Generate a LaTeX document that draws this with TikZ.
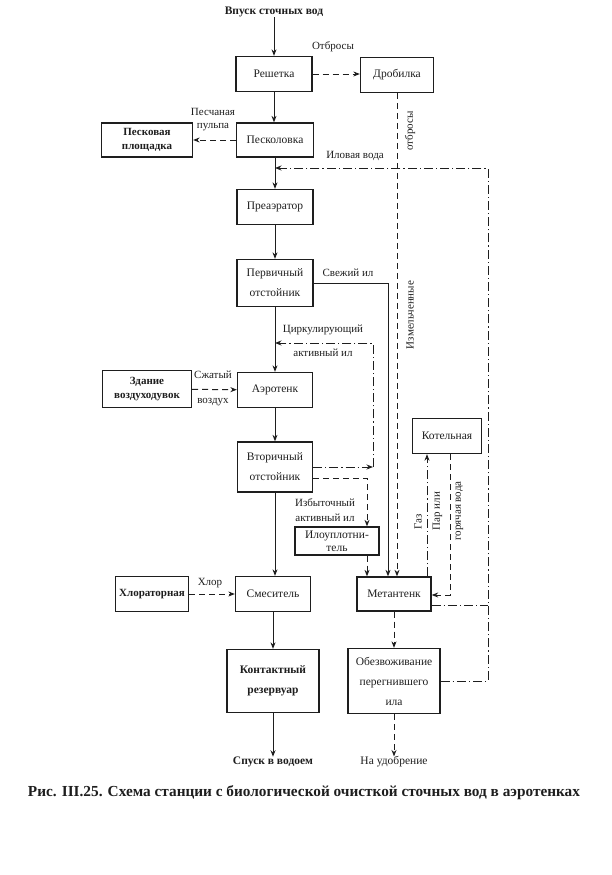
\documentclass[tikz,border=0pt]{standalone}
\usepackage{fontspec}
\setmainfont{Liberation Serif}
\usepackage{xcolor}
\usepackage{tikz}
\usetikzlibrary{positioning, arrows.meta}
\definecolor{nInk}{HTML}{1E1E1E}
\definecolor{nPaper}{HTML}{FFFFFF}

\begin{document}
\begin{tikzpicture}[x=1pt, y=-1pt, >={Stealth[length=6.5pt, width=5pt]},
        sbox/.style={draw=nInk, line width=1.3pt, minimum height=35pt, align=center,
          font=\fontsize{11.5}{20}\selectfont, inner sep=2pt, text=nInk},
        flow/.style={->, line width=1pt, nInk},
        dashflow/.style={flow, dash pattern=on 6pt off 4pt},
        dotflow/.style={flow, dash pattern=on 9pt off 3pt on 1.2pt off 3pt},
        dotline/.style={line width=1pt, nInk, dash pattern=on 9pt off 3pt on 1.2pt off 3pt},
        lbl/.style={font=\fontsize{11}{13}\selectfont, inner sep=0pt, text=nInk, align=center}]
      \useasboundingbox[fill=nPaper] (0,0) rectangle (612,875);
      % main line
      \node[lbl, font=\fontsize{11.5}{13}\bfseries] (inlet) at (274,12) {Впуск сточных вод};
      \node[sbox, minimum width=76pt] (resh) at (274,74) {Решетка};
      \node[sbox, minimum width=73pt] (drob) at (397,75) {Дробилка};
      \node[sbox, minimum width=77pt, minimum height=34pt] (pesk) at (275,140) {Песколовка};
      \node[sbox, minimum width=91pt, minimum height=34pt, font=\fontsize{11}{14}\bfseries] (plosh) at (147,140) {Песковая\\площадка};
      \node[sbox, minimum width=76pt] (preae) at (275,207) {Преаэратор};
      \node[sbox, minimum width=76pt, minimum height=47pt] (perv) at (275,283) {Первичный\\отстойник};
      \node[sbox, minimum width=75pt] (aero) at (275,390) {Аэротенк};
      \node[sbox, minimum width=89pt, minimum height=37pt, font=\fontsize{11}{14}\bfseries] (zdan) at (147,389) {Здание\\воздуходувок};
      \node[sbox, minimum width=75pt, minimum height=50pt] (vtor) at (275,467) {Вторичный\\отстойник};
      \node[sbox, minimum width=84pt, minimum height=28pt, font=\fontsize{11.5}{13}\selectfont] (ilou) at (337,541) {Илоуплотни-\\тель};
      \node[sbox, minimum width=75pt] (smes) at (273,594) {Смеситель};
      \node[sbox, minimum width=73pt, font=\fontsize{11}{14}\bfseries] (hlor) at (152,594) {Хлораторная};
      \node[sbox, minimum width=92pt, minimum height=63pt, font=\fontsize{11.5}{20}\bfseries] (kont) at (273,681) {Контактный\\резервуар};
      \node[sbox, minimum width=69pt] (koteln) at (447,436) {Котельная};
      \node[sbox, minimum width=74pt, minimum height=34pt] (metan) at (394,594) {Метантенк};
      \node[sbox, minimum width=92pt, minimum height=65pt] (obez) at (394,681) {Обезвоживание\\перегнившего\\ила};
      % labels
      \node[lbl] (otbr) at (333,47) {Отбросы};
      \node[lbl] (pulpa) at (213,120) {Песчаная\\пульпа};
      \node[lbl] (ilvoda) at (355,156) {Иловая вода};
      \node[lbl] (svil) at (348,273) {Свежий ил};
      \node[lbl] (cirka) at (323,330) {Циркулирующий};
      \node[lbl] (cirkb) at (323,353) {активный ил};
      \node[lbl] (szha) at (213,375) {Сжатый};
      \node[lbl] (szhb) at (213,402) {воздух};
      \node[lbl, font=\fontsize{11}{15}\selectfont] (izb) at (325,510) {Избыточный\\активный ил};
      \node[lbl] (hlorl) at (210,583) {Хлор};
      \node[lbl, rotate=90] (izm) at (410,315) {Измельченные};
      \node[lbl, rotate=90] (otbrb) at (410,131) {отбросы};
      \node[lbl, rotate=90] (gaz) at (418,522) {Газ};
      \node[lbl, rotate=90, font=\fontsize{11}{21}\selectfont] (par) at (448,511) {Пар или\\горячая вода};
      \node[lbl, font=\fontsize{11.5}{13}\bfseries] (spusk) at (273,762) {Спуск в водоем};
      \node[lbl, font=\fontsize{11.5}{13}\selectfont] (udobr) at (394,762) {На удобрение};
      \node[lbl, font=\fontsize{15.3}{18}\bfseries] (capt) at (304,793)
        {Рис. III.25. Схема станции с биологической очисткой сточных вод в аэротенках};
      % corners
      \coordinate (ilR) at (488,168);
      \coordinate (ilL) at (275,168);
      \coordinate (svC) at (388,283);
      \coordinate (cirC) at (373,467);
      \coordinate (cirT) at (275,343);
      \coordinate (izbC) at (367,478);
      \coordinate (gazX) at (427,500);
      \coordinate (parX) at (450,595);
      % solid and dashed flows
      \draw[flow] (inlet) -- (resh);
      \draw[dashflow] (resh.east) -- (resh.east -| drob.west);
      \draw[flow] (resh) -- (resh |- pesk.north);
      \draw[dashflow] (pesk) -- (plosh);
      \draw[flow] (pesk) -- (preae);
      \draw[flow] (preae) -- (perv);
      \draw[flow] (perv) -- (aero);
      \draw[dashflow] (zdan) -- (aero);
      \draw[flow] (aero) -- (vtor);
      \draw[flow] (vtor) -- (vtor |- smes.north);
      \draw[dashflow] (hlor) -- (smes);
      \draw[flow] (smes) -- (kont);
      \draw[flow] (kont) -- (kont |- spusk.north);
      \draw[dashflow] (metan) -- (obez);
      \draw[dashflow] (obez) -- (udobr);
      \draw[dashflow] (drob.south) -- (drob.south |- metan.north);
      \draw[flow] (perv.east) -- (svC) -- (svC |- metan.north);
      \draw[dashflow] ([yshift=-11pt]vtor.east) -- (izbC) -- (izbC |- ilou.north);
      \draw[dashflow] (ilou.south -| izbC) -- (izbC |- metan.north);
      % dash-dot returns
      \draw[dotflow] (vtor.east) -- (cirC);
      \draw[dotflow] (cirC) -- (cirC |- cirT) -- (cirT);
      \draw[dotflow] (obez.east) -- (obez.east -| ilR) -- (ilR) -- (ilL);
      \draw[dotline] ([yshift=-11pt]metan.east) -- ([yshift=-11pt]metan.east -| ilR);
      \draw[dotflow] (gazX |- metan.north) -- (gazX |- koteln.south);
      \draw[dashflow] (parX |- koteln.south) -- (parX) -- (parX -| metan.east);
    \end{tikzpicture}
\end{document}
